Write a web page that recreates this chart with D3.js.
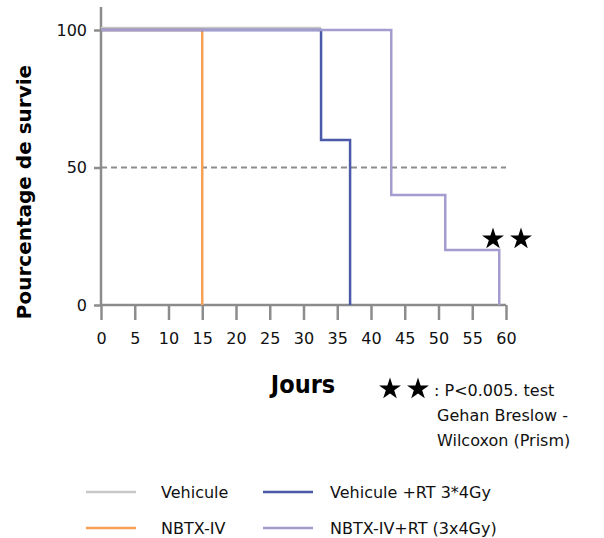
<!DOCTYPE html>
<html><head><meta charset="utf-8">
<script src="https://cdn.jsdelivr.net/npm/d3@7"></script>
<style>body{margin:0;background:#fff}svg{display:block}text{font-family:"DejaVu Sans",sans-serif}</style>
</head><body><svg id="c" width="604" height="538"></svg>
<script>
const xTicks = [0,5,10,15,20,25,30,35,40,45,50,55,60];
const yTicks = [0,50,100];
const seriesNames = ["Vehicule","NBTX-IV","Vehicule +RT 3*4Gy","NBTX-IV+RT (3x4Gy)"];
const seriesColors = ["#c8c8c8","#f7a156","#4a5aa8","#a39ccf"];
const vehicule = [[0,100],[32.6,100]];
const nbtxIV = [[0,100],[15,0]];
const vehiculeRT = [[0,100],[32.6,60],[36.9,0]];
const nbtxIVRT = [[0,100],[43,40],[51,20],[59,0]];
const noteLines = [": P<0.005. test","Gehan Breslow -","Wilcoxon (Prism)"];

const svg = d3.select("#c");
const x = d3.scaleLinear().domain([0,60]).range([101,506]);
const y = d3.scaleLinear().domain([0,100]).range([305,30]);
const axisCol = "#8c8c8c";

// axes
const xAxis = svg.append("g").attr("transform","translate(0,305)")
  .call(d3.axisBottom(x).tickValues(xTicks).tickSize(15).tickPadding(13));
xAxis.select(".domain").attr("stroke",axisCol).attr("stroke-width",2.5).attr("d",`M101,0H506`);
xAxis.selectAll(".tick line").attr("stroke",axisCol).attr("stroke-width",2.5);
xAxis.selectAll(".tick text").attr("fill","#111").style("font-size","16px");

const yAxis = svg.append("g").attr("transform","translate(101,0)")
  .call(d3.axisLeft(y).tickValues(yTicks).tickSize(7).tickPadding(7));
yAxis.select(".domain").attr("stroke",axisCol).attr("stroke-width",2.5).attr("d",`M0,7V305`);
yAxis.selectAll(".tick line").attr("stroke",axisCol).attr("stroke-width",2.5);
yAxis.selectAll(".tick text").attr("fill","#111").style("font-size","16px");

// 50% dashed reference
svg.append("line").attr("x1",x(0)).attr("x2",x(60)).attr("y1",y(50)).attr("y2",y(50))
  .attr("stroke","#8c8c8c").attr("stroke-width",2).attr("stroke-dasharray","6,4");

const line = d3.line().x(d=>x(d[0])).y(d=>y(d[1])).curve(d3.curveStepAfter);
const draw = (data,col,dy)=>svg.append("path").datum(data).attr("d",line)
  .attr("fill","none").attr("stroke",col).attr("stroke-width",2.5)
  .attr("transform",`translate(0,${dy})`);
draw(vehicule,seriesColors[0],-2);
draw(nbtxIV,seriesColors[1],0);
draw(vehiculeRT,seriesColors[2],0);
draw(nbtxIVRT,seriesColors[3],0);

// stars
const star = d3.symbol().type(d3.symbolStar).size(150);
[493,521].forEach(cx=>svg.append("path").attr("d",star).attr("transform",`translate(${cx},239)`).attr("fill","#000"));

// axis titles
svg.append("text").attr("transform","translate(31,192) rotate(-90)").attr("text-anchor","middle")
  .style("font-size","20px").style("font-weight","bold").text("Pourcentage de survie");
svg.append("text").attr("x",303).attr("y",393).attr("text-anchor","middle")
  .style("font-family","'DejaVu Sans Condensed'")
  .style("font-size","25px").style("font-weight","bold").text("Jours");

// note
[390,418].forEach(cx=>svg.append("path").attr("d",star).attr("transform",`translate(${cx},389)`).attr("fill","#000"));
noteLines.forEach((t,i)=>svg.append("text").attr("x",i===0?434:437).attr("y",396+i*25)
  .style("font-size","16px").attr("fill","#111").text(t));

// legend
const leg = [[86,161,492],[86,161,528],[263,330,492],[263,330,528]];
[0,1,2,3].forEach(i=>{
  const [lx,tx,ly]=leg[i];
  svg.append("line").attr("x1",lx).attr("x2",lx+50).attr("y1",ly).attr("y2",ly)
    .attr("stroke",seriesColors[i]).attr("stroke-width",2.5);
  svg.append("text").attr("x",tx).attr("y",ly+6).style("font-size","16px").attr("fill","#111").text(seriesNames[i]);
});
</script></body></html>
